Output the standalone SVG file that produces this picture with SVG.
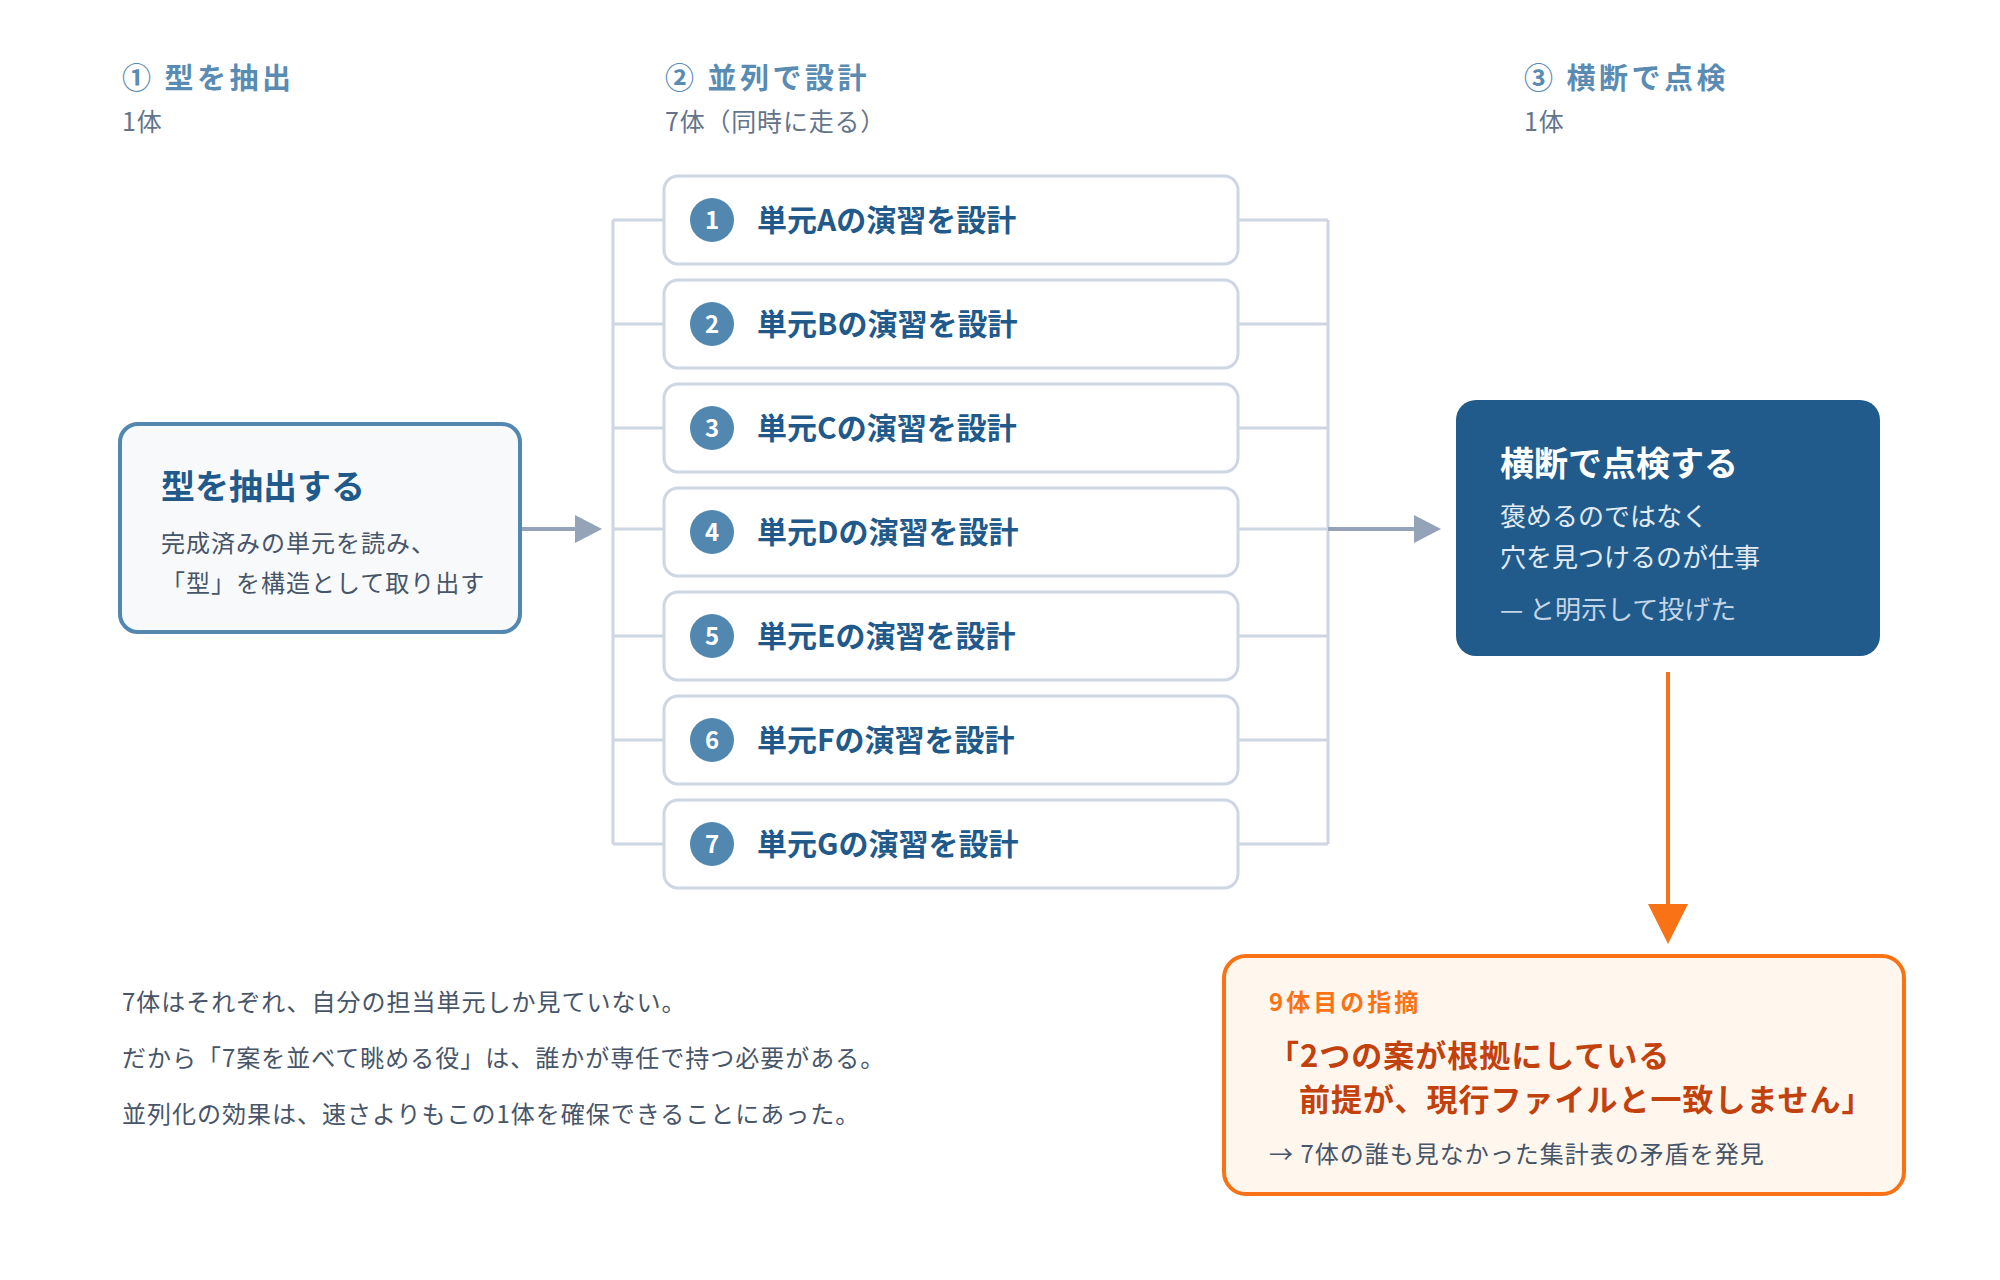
<svg xmlns="http://www.w3.org/2000/svg" width="2000" height="1280" viewBox="0 0 2000 1280">
<defs>
<style>
text { font-family: "Noto Sans CJK JP", "Noto Sans", sans-serif; }
.hd { font-size: 29px; font-weight: 700; fill: #5a8cb3; letter-spacing: 3.5px; }
.sub { font-size: 25px; fill: #64748b; letter-spacing: 0.8px; }
.box { fill: #ffffff; stroke: #cdd6e2; stroke-width: 3; }
.badge { fill: #5288b0; }
.num { font-size: 24px; font-weight: 700; fill: #ffffff; text-anchor: middle; }
.lbl { font-size: 30px; font-weight: 700; fill: #1f5a8b; }
.wire { fill: none; stroke: #cdd6e2; stroke-width: 3; }
.arr { fill: none; stroke: #94a3b8; stroke-width: 4; }
.body { font-size: 24px; fill: #475569; letter-spacing: 1px; }
</style>
</defs>
<rect width="2000" height="1280" fill="#ffffff"/>

<g id="headers">
<text class="hd" x="122" y="89">① 型を抽出</text>
<text class="sub" x="122" y="131">1体</text>
<text class="hd" x="665" y="89">② 並列で設計</text>
<text class="sub" x="665" y="131">7体（同時に走る）</text>
<text class="hd" x="1524" y="89">③ 横断で点検</text>
<text class="sub" x="1524" y="131">1体</text>
</g>

<g id="connectors">
<path class="wire" d="M613 220 V844 M613 220 H664 M613 324 H664 M613 428 H664 M613 529 H664 M613 636 H664 M613 740 H664 M613 844 H664"/>
<path class="wire" d="M1328 220 V844 M1238 220 H1328 M1238 324 H1328 M1238 428 H1328 M1238 529 H1328 M1238 636 H1328 M1238 740 H1328 M1238 844 H1328"/>
<path class="arr" d="M521 529 H578"/>
<polygon points="575,515 602,529 575,543" fill="#94a3b8"/>
<path class="arr" d="M1328 529 H1416"/>
<polygon points="1414,515 1441,529 1414,543" fill="#94a3b8"/>
<path d="M1668 672 V906" fill="none" stroke="#f97316" stroke-width="4"/>
<polygon points="1648,904 1688,904 1668,944" fill="#f97316"/>
</g>

<g id="extract">
<rect x="120" y="424" width="400" height="208" rx="18" fill="#f7f9fb" stroke="#5288b0" stroke-width="4"/>
<text x="161" y="499" font-size="34" font-weight="700" fill="#1f5a8b">型を抽出する</text>
<text class="body" x="161" y="552">完成済みの単元を読み、</text>
<text class="body" x="161" y="592">「型」を構造として取り出す</text>
</g>

<g id="unitA">
<rect class="box" x="664" y="176" width="574" height="88" rx="14"/>
<circle class="badge" cx="712" cy="220" r="22"/>
<text class="num" x="712" y="229">1</text>
<text class="lbl" x="757" y="231">単元Aの演習を設計</text>
</g>
<g id="unitB">
<rect class="box" x="664" y="280" width="574" height="88" rx="14"/>
<circle class="badge" cx="712" cy="324" r="22"/>
<text class="num" x="712" y="333">2</text>
<text class="lbl" x="757" y="335">単元Bの演習を設計</text>
</g>
<g id="unitC">
<rect class="box" x="664" y="384" width="574" height="88" rx="14"/>
<circle class="badge" cx="712" cy="428" r="22"/>
<text class="num" x="712" y="437">3</text>
<text class="lbl" x="757" y="439">単元Cの演習を設計</text>
</g>
<g id="unitD">
<rect class="box" x="664" y="488" width="574" height="88" rx="14"/>
<circle class="badge" cx="712" cy="532" r="22"/>
<text class="num" x="712" y="541">4</text>
<text class="lbl" x="757" y="543">単元Dの演習を設計</text>
</g>
<g id="unitE">
<rect class="box" x="664" y="592" width="574" height="88" rx="14"/>
<circle class="badge" cx="712" cy="636" r="22"/>
<text class="num" x="712" y="645">5</text>
<text class="lbl" x="757" y="647">単元Eの演習を設計</text>
</g>
<g id="unitF">
<rect class="box" x="664" y="696" width="574" height="88" rx="14"/>
<circle class="badge" cx="712" cy="740" r="22"/>
<text class="num" x="712" y="749">6</text>
<text class="lbl" x="757" y="751">単元Fの演習を設計</text>
</g>
<g id="unitG">
<rect class="box" x="664" y="800" width="574" height="88" rx="14"/>
<circle class="badge" cx="712" cy="844" r="22"/>
<text class="num" x="712" y="853">7</text>
<text class="lbl" x="757" y="855">単元Gの演習を設計</text>
</g>

<g id="review">
<rect x="1456" y="400" width="424" height="256" rx="20" fill="#215b8b"/>
<text x="1500" y="476" font-size="34" font-weight="700" fill="#ffffff">横断で点検する</text>
<text x="1500" y="526" font-size="26" fill="#e1ebf5">褒めるのではなく</text>
<text x="1500" y="567" font-size="26" fill="#e1ebf5">穴を見つけるのが仕事</text>
<text x="1500" y="619" font-size="26" fill="#c3d5e7">— と明示して投げた</text>
</g>

<g id="finding">
<rect x="1224" y="956" width="680" height="238" rx="22" fill="#fff6ee" stroke="#f97316" stroke-width="4"/>
<text x="1269" y="1011" font-size="24" font-weight="700" fill="#f97316" letter-spacing="3">9体目の指摘</text>
<text x="1268" y="1067" font-size="31" font-weight="700" fill="#c2410c" letter-spacing="1">「2つの案が根拠にしている</text>
<text x="1299" y="1111" font-size="31" font-weight="700" fill="#c2410c" letter-spacing="1">前提が、現行ファイルと一致しません」</text>
<text x="1269" y="1163" font-size="24" fill="#475569" letter-spacing="1">→ 7体の誰も見なかった集計表の矛盾を発見</text>
</g>

<g id="notes">
<text class="body" x="122" y="1011">7体はそれぞれ、自分の担当単元しか見ていない。</text>
<text class="body" x="122" y="1067">だから「7案を並べて眺める役」は、誰かが専任で持つ必要がある。</text>
<text class="body" x="122" y="1123">並列化の効果は、速さよりもこの1体を確保できることにあった。</text>
</g>
</svg>
